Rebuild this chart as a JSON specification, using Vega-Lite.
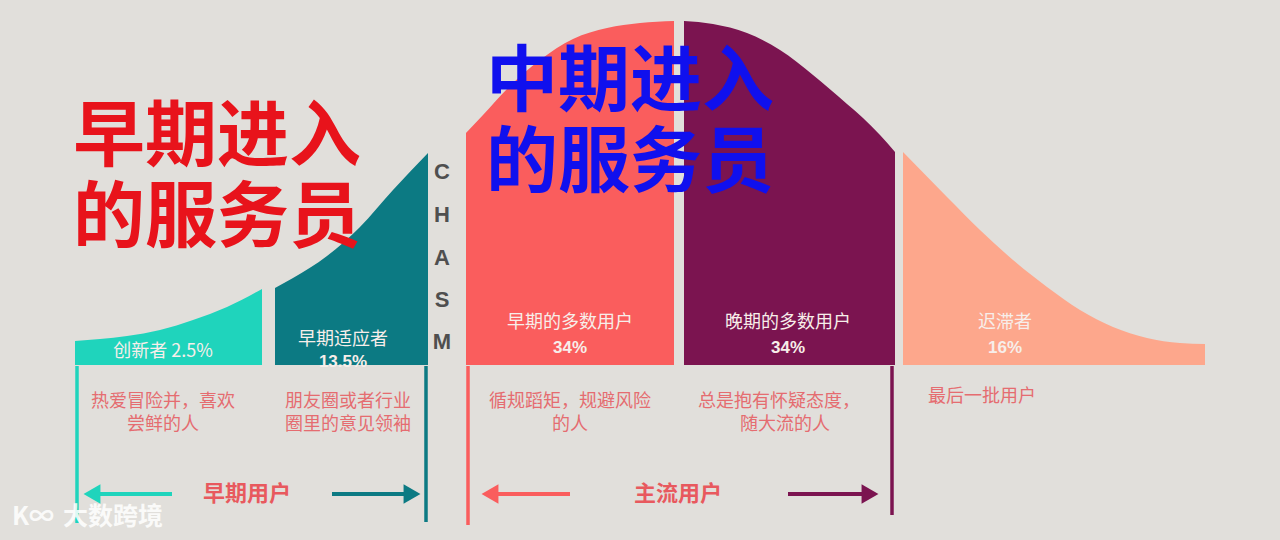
{
  "$schema": "https://vega.github.io/schema/vega-lite/v6.json",
  "width": 1280,
  "height": 540,
  "padding": 0,
  "autosize": {"type": "none"},
  "background": "#e1dfdb",
  "config": {"view": {"stroke": null}, "text": {"font": "Noto Sans CJK SC"}},
  "encoding": {
    "x": {"field": "x", "type": "quantitative", "scale": {"domain": [0, 1280], "nice": false, "zero": false}, "axis": null},
    "y": {"field": "h", "type": "quantitative", "scale": {"domain": [-175, 365], "nice": false, "zero": false}, "axis": null}
  },
  "layer": [
    {
      "data": {"values": [
        {"seg": "innov", "x": 75, "h": 24}, {"seg": "innov", "x": 100, "h": 26}, {"seg": "innov", "x": 127, "h": 29},
        {"seg": "innov", "x": 160, "h": 35}, {"seg": "innov", "x": 193, "h": 45}, {"seg": "innov", "x": 227, "h": 58},
        {"seg": "innov", "x": 262, "h": 76},
        {"seg": "early", "x": 275, "h": 77}, {"seg": "early", "x": 293, "h": 87}, {"seg": "early", "x": 327, "h": 109},
        {"seg": "early", "x": 360, "h": 138}, {"seg": "early", "x": 393, "h": 175}, {"seg": "early", "x": 428, "h": 212},
        {"seg": "earlymaj", "x": 466, "h": 232}, {"seg": "earlymaj", "x": 483, "h": 250}, {"seg": "earlymaj", "x": 507, "h": 276},
        {"seg": "earlymaj", "x": 540, "h": 305}, {"seg": "earlymaj", "x": 573, "h": 326}, {"seg": "earlymaj", "x": 607, "h": 337},
        {"seg": "earlymaj", "x": 640, "h": 342}, {"seg": "earlymaj", "x": 674, "h": 344},
        {"seg": "latemaj", "x": 684, "h": 344}, {"seg": "latemaj", "x": 713, "h": 341}, {"seg": "latemaj", "x": 747, "h": 332},
        {"seg": "latemaj", "x": 780, "h": 315}, {"seg": "latemaj", "x": 813, "h": 290}, {"seg": "latemaj", "x": 847, "h": 261},
        {"seg": "latemaj", "x": 863, "h": 247}, {"seg": "latemaj", "x": 880, "h": 230}, {"seg": "latemaj", "x": 895, "h": 213},
        {"seg": "lag", "x": 903, "h": 213}, {"seg": "lag", "x": 947, "h": 168}, {"seg": "lag", "x": 980, "h": 135},
        {"seg": "lag", "x": 1013, "h": 105}, {"seg": "lag", "x": 1047, "h": 78}, {"seg": "lag", "x": 1080, "h": 55},
        {"seg": "lag", "x": 1113, "h": 38}, {"seg": "lag", "x": 1147, "h": 27}, {"seg": "lag", "x": 1180, "h": 22},
        {"seg": "lag", "x": 1205, "h": 21}
      ]},
      "mark": {"type": "area", "interpolate": "monotone"},
      "encoding": {
        "y2": {"datum": 0},
        "color": {"field": "seg", "type": "nominal", "legend": null,
          "scale": {"domain": ["innov", "early", "earlymaj", "latemaj", "lag"], "range": ["#1fd4bc", "#0c7a83", "#fa5d5d", "#7b1450", "#fda78c"]}}
      }
    },
    {
      "data": {"values": [
        {"seg": "innov", "x": 77, "h": -1, "h2": -158},
        {"seg": "early", "x": 426, "h": -1, "h2": -157},
        {"seg": "earlymaj", "x": 468, "h": -1, "h2": -160},
        {"seg": "latemaj", "x": 892, "h": -1, "h2": -150}
      ]},
      "mark": {"type": "rule", "strokeWidth": 3.5},
      "encoding": {
        "y2": {"field": "h2"},
        "color": {"field": "seg", "type": "nominal", "legend": null,
          "scale": {"domain": ["innov", "early", "earlymaj", "latemaj", "lag"], "range": ["#1fd4bc", "#0c7a83", "#fa5d5d", "#7b1450", "#fda78c"]}}
      }
    },
    {
      "data": {"values": [
        {"seg": "innov", "x": 172, "x2": 98, "h": -129},
        {"seg": "early", "x": 332, "x2": 407, "h": -129},
        {"seg": "earlymaj", "x": 570, "x2": 496, "h": -129},
        {"seg": "latemaj", "x": 788, "x2": 864, "h": -129}
      ]},
      "mark": {"type": "rule", "strokeWidth": 4},
      "encoding": {
        "x2": {"field": "x2"},
        "color": {"field": "seg", "type": "nominal", "legend": null,
          "scale": {"domain": ["innov", "early", "earlymaj", "latemaj", "lag"], "range": ["#1fd4bc", "#0c7a83", "#fa5d5d", "#7b1450", "#fda78c"]}}
      }
    },
    {
      "data": {"values": [
        {"seg": "innov", "x": 92, "h": -129, "dir": "left"},
        {"seg": "early", "x": 412, "h": -129, "dir": "right"},
        {"seg": "earlymaj", "x": 490, "h": -129, "dir": "left"},
        {"seg": "latemaj", "x": 870, "h": -129, "dir": "right"}
      ]},
      "mark": {"type": "point", "filled": true, "opacity": 1, "size": 380},
      "encoding": {
        "shape": {"field": "dir", "type": "nominal", "legend": null, "scale": {"domain": ["left", "right"], "range": ["triangle-left", "triangle-right"]}},
        "color": {"field": "seg", "type": "nominal", "legend": null,
          "scale": {"domain": ["innov", "early", "earlymaj", "latemaj", "lag"], "range": ["#1fd4bc", "#0c7a83", "#fa5d5d", "#7b1450", "#fda78c"]}}
      }
    },
    {
      "data": {"values": [
        {"label": "创新者 2.5%", "x": 163, "h": 13},
        {"label": "早期适应者", "x": 343, "h": 25},
        {"label": "早期的多数用户", "x": 570, "h": 42},
        {"label": "晚期的多数用户", "x": 788, "h": 42},
        {"label": "迟滞者", "x": 1005, "h": 42}
      ]},
      "mark": {"type": "text", "fontSize": 18, "color": "#f7eeea", "baseline": "middle", "align": "center"},
      "encoding": {"text": {"field": "label"}}
    },
    {
      "data": {"values": [
        {"label": "13.5%", "x": 343, "h": 3},
        {"label": "34%", "x": 570, "h": 17},
        {"label": "34%", "x": 788, "h": 17},
        {"label": "16%", "x": 1005, "h": 17}
      ]},
      "mark": {"type": "text", "fontSize": 17, "color": "#f7eeea", "baseline": "middle", "align": "center", "fontWeight": "bold", "font": "Liberation Sans"},
      "encoding": {"text": {"field": "label"}}
    },
    {
      "data": {"values": [
        {"label": "热爱冒险并，喜欢", "x": 163, "h": -37},
        {"label": "尝鲜的人", "x": 163, "h": -60},
        {"label": "朋友圈或者行业", "x": 348, "h": -37},
        {"label": "圈里的意见领袖", "x": 348, "h": -60},
        {"label": "循规蹈矩，规避风险", "x": 570, "h": -37},
        {"label": "的人", "x": 570, "h": -60},
        {"label": "总是抱有怀疑态度，", "x": 779, "h": -37},
        {"label": "随大流的人", "x": 785, "h": -60},
        {"label": "最后一批用户", "x": 982, "h": -32}
      ]},
      "mark": {"type": "text", "fontSize": 18, "color": "#e56c70", "baseline": "middle", "align": "center"},
      "encoding": {"text": {"field": "label"}}
    },
    {
      "data": {"values": [
        {"label": "早期用户", "x": 247, "h": -129},
        {"label": "主流用户", "x": 678, "h": -129}
      ]},
      "mark": {"type": "text", "fontSize": 22, "color": "#e8595e", "baseline": "middle", "align": "center", "fontWeight": "bold"},
      "encoding": {"text": {"field": "label"}}
    },
    {
      "data": {"values": [
        {"label": "C", "x": 442, "h": 193},
        {"label": "H", "x": 442, "h": 150},
        {"label": "A", "x": 442, "h": 107},
        {"label": "S", "x": 442, "h": 65},
        {"label": "M", "x": 442, "h": 23}
      ]},
      "mark": {"type": "text", "fontSize": 22, "color": "#4f4f4f", "baseline": "middle", "align": "center", "fontWeight": "bold", "font": "Liberation Sans"},
      "encoding": {"text": {"field": "label"}}
    },
    {
      "data": {"values": [
        {"label": "早期进入", "x": 217, "h": 227},
        {"label": "的服务员", "x": 217, "h": 146}
      ]},
      "mark": {"type": "text", "fontSize": 72, "color": "#e8131b", "baseline": "middle", "align": "center", "fontWeight": "bold"},
      "encoding": {"text": {"field": "label"}}
    },
    {
      "data": {"values": [
        {"label": "中期进入", "x": 630, "h": 282},
        {"label": "的服务员", "x": 630, "h": 201}
      ]},
      "mark": {"type": "text", "fontSize": 72, "color": "#1010ee", "baseline": "middle", "align": "center", "fontWeight": "bold"},
      "encoding": {"text": {"field": "label"}}
    },
    {
      "data": {"values": [
        {"label": "K∞", "x": 33, "h": -152},
        {"label": "大数跨境", "x": 113, "h": -152}
      ]},
      "mark": {"type": "text", "fontSize": 25, "color": "#ffffff", "opacity": 0.85, "baseline": "middle", "align": "center", "fontWeight": "bold"},
      "encoding": {"text": {"field": "label"}}
    }
  ]
}
